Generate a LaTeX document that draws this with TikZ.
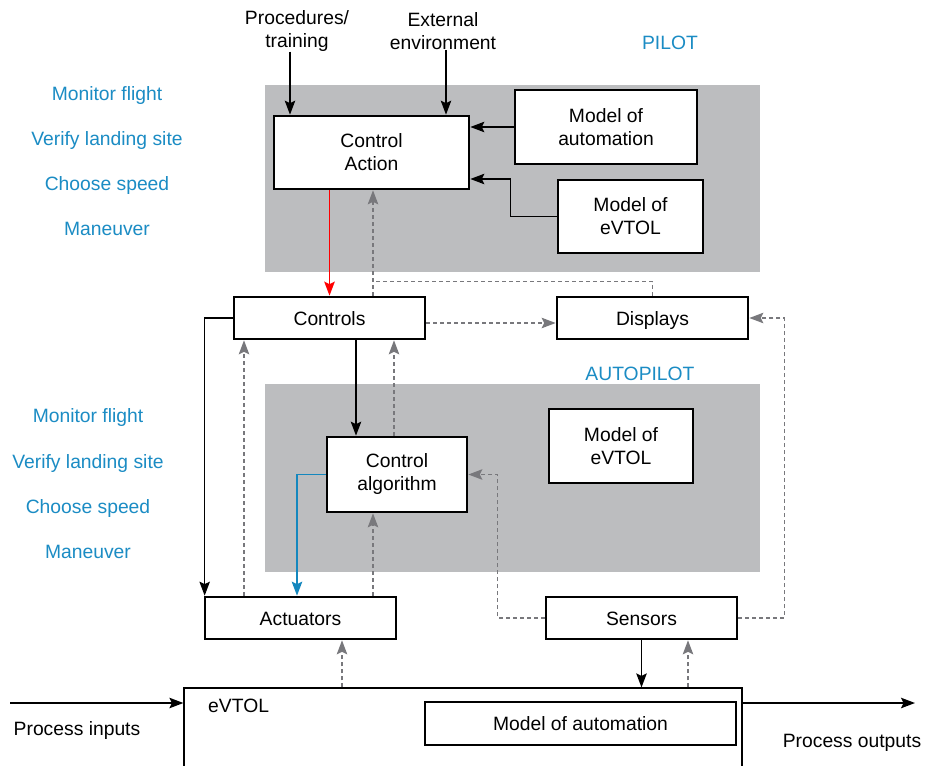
\documentclass[tikz,border=0pt]{standalone}
\usepackage{fontspec}
\setmainfont{Liberation Sans}
\usetikzlibrary{arrows.meta,calc}
\definecolor{regiongray}{RGB}{188,189,191}
\definecolor{labelblue}{RGB}{27,140,196}
\definecolor{feedgray}{RGB}{120,120,124}
\definecolor{linkblue}{RGB}{20,135,190}
\tikzset{
  txt/.style={font=\fontsize{19.3}{23}\selectfont, align=center, inner sep=0pt},
  oneline/.style={text height=14pt, text depth=0pt},
  blk/.style={txt, draw=black, line width=2.7pt, fill=white},
  tip/.style={-{Stealth[length=14pt,width=10.5pt,inset=2.5pt]}},
  arr/.style={tip, line width=1.4pt, draw=black},
  redarr/.style={arr, draw=red, line width=1.6pt},
  bluearr/.style={arr, draw=linkblue, line width=1.6pt},
  dline/.style={line width=1.3pt, draw=feedgray, dash pattern=on 4pt off 3pt},
  darr/.style={dline, tip},
  role/.style={txt, oneline, text=labelblue},
}
\begin{document}
\begin{tikzpicture}[x=1pt,y=-1pt]
\useasboundingbox (0,0) rectangle (925,765);
\fill[white] (0,0) rectangle (925,765);

% shaded controller regions
\fill[regiongray] (265,85) rectangle (760,272);
\fill[regiongray] (265,384) rectangle (760,572);

% region titles and responsibilities
\node[role] (pilot) at (670,43) {PILOT};
\node[role] (autopilot) at (640,373) {AUTOPILOT};
\node[role] (r1) at (107,93) {Monitor flight};
\node[role] (r2) at (107,138) {Verify landing site};
\node[role] (r3) at (107,183) {Choose speed};
\node[role] (r4) at (107,228) {Maneuver};
\node[role] (a1) at (88,415) {Monitor flight};
\node[role] (a2) at (88,461) {Verify landing site};
\node[role] (a3) at (88,506) {Choose speed};
\node[role] (a4) at (88,551) {Maneuver};

% inputs to the pilot
\node[txt] (proc) at (297,31) {Procedures/\\training};
\node[txt] (envr) at (443,31) {External\\environment};

% blocks
\node[blk, minimum width=195pt, minimum height=73pt] (ca) at (371.5,152.5) {Control\\Action};
\node[blk, minimum width=182pt, minimum height=74pt] (moa) at (606,127) {Model of\\automation};
\node[blk, minimum width=145pt, minimum height=73pt] (mev) at (630.5,216.5) {Model of\\eVTOL};
\node[blk, oneline, minimum width=191pt, minimum height=42pt] (ctrl) at (329.5,318) {Controls};
\node[blk, oneline, minimum width=191pt, minimum height=42pt] (disp) at (652.5,318) {Displays};
\node[blk, minimum width=140pt, minimum height=75pt] (calg) at (397,474.5) {Control\\algorithm};
\node[blk, minimum width=144pt, minimum height=74pt] (mev2) at (621,446) {Model of\\eVTOL};
\node[blk, oneline, minimum width=191pt, minimum height=42pt] (act) at (300.5,618) {Actuators};
\node[blk, oneline, minimum width=191pt, minimum height=42pt] (sens) at (641.5,618) {Sensors};
\node[draw=black, line width=1.2pt, fill=white, minimum width=558pt, minimum height=94pt, inner sep=0pt] (evtol) at (463,735) {};
\node[txt, oneline, anchor=west] (evtoltag) at (208,705) {eVTOL};
\node[blk, oneline, minimum width=311pt, minimum height=43pt] (moa2) at (580.5,723.5) {Model of automation};

% pilot inputs
\path (proc.south) ++(-7,0) coordinate (pin1);
\draw[arr] (pin1) -- (pin1 |- ca.north);
\path (envr.south) ++(3,0) coordinate (pin2);
\draw[arr] (pin2) -- (pin2 |- ca.north);

% mental models feeding the control action
\draw[arr] (moa.west) -- (moa.west -| ca.east);
\coordinate (cam) at ([yshift=-26.5pt]ca.east);
\draw[arr] (mev.west) -- ++(-46,0) |- (cam);

% pilot to controls and feedback
\draw[redarr] (ctrl.north |- ca.south) -- (ctrl.north);
\coordinate (fb1) at ([xshift=43.5pt]ctrl.north);
\draw[darr] (fb1) -- (fb1 |- ca.south);
\coordinate (j1) at ($(fb1)+(0,-14)$);
\draw[dline] (disp.north) |- (j1);
\draw[darr] ([yshift=-5pt]ctrl.east) -- ([yshift=-5pt]disp.west);
\draw[darr] (sens.east) -- ++(46,0) |- (disp.east);

% controls to actuators
\coordinate (actin) at ([xshift=1pt]act.north west);
\draw[arr] (ctrl.west) -| (actin);
\coordinate (fb2) at ([xshift=-56.5pt]act.north);
\draw[darr] (fb2) -- (fb2 |- ctrl.south);

% controls and autopilot
\coordinate (cin) at ([xshift=-41pt]calg.north);
\draw[arr] (cin |- ctrl.south) -- (cin);
\coordinate (fb3) at ([xshift=-3pt]calg.north);
\draw[darr] (fb3) -- (fb3 |- ctrl.south);
\coordinate (actin2) at ([xshift=-3.5pt]act.north);
\draw[bluearr] (calg.west) -| (actin2);
\coordinate (fb4) at ([xshift=-24pt]calg.south);
\draw[darr] (fb4 |- act.north) -- (fb4);
\draw[darr] (sens.west) -- ++(-47,0) |- (calg.east);

% controlled process
\coordinate (fb5) at ([xshift=41.5pt]act.south);
\draw[darr] (fb5 |- evtol.north) -- (fb5);
\draw[arr] (sens.south) -- (sens.south |- evtol.north);
\coordinate (fb6) at ([xshift=46.5pt]sens.south);
\draw[darr] (fb6 |- evtol.north) -- (fb6);

% process inputs and outputs
\coordinate (pstart) at (10,703);
\coordinate (pend) at (915,703);
\draw[arr] (pstart) -- (pstart -| evtol.west);
\draw[arr] (pend -| evtol.east) -- (pend);
\node[txt, oneline] (pinl) at (77,728) {Process inputs};
\node[txt, oneline] (poutl) at (852,740) {Process outputs};
\end{tikzpicture}
\end{document}
